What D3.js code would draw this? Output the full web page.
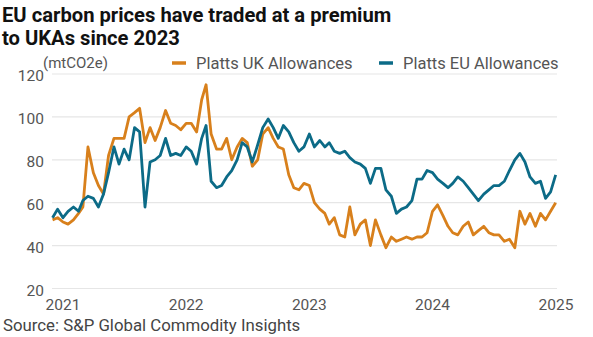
<!DOCTYPE html>
<html>
<head>
<meta charset="utf-8">
<script src="https://cdn.jsdelivr.net/npm/d3@7"></script>
<style>
  body { margin: 0; background: #fff; }
  svg { font-family: Roboto, "Noto Sans", sans-serif; }
</style>
</head>
<body>
<svg class="chartSVG" width="593" height="337"></svg>
<script>
const dates = [
  '2020-12-01','2020-12-16','2021-01-01','2021-01-16','2021-02-01','2021-02-16','2021-03-01','2021-03-16',
  '2021-04-01','2021-04-16','2021-05-01','2021-05-16','2021-06-01','2021-06-16','2021-07-01','2021-07-16',
  '2021-08-01','2021-08-16','2021-09-01','2021-09-16','2021-10-01','2021-10-16','2021-11-01','2021-11-16',
  '2021-12-01','2021-12-16','2022-01-01','2022-01-16','2022-02-01','2022-02-16','2022-03-01','2022-03-16',
  '2022-04-01','2022-04-16','2022-05-01','2022-05-16','2022-06-01','2022-06-16','2022-07-01','2022-07-16',
  '2022-08-01','2022-08-16','2022-09-01','2022-09-16','2022-10-01','2022-10-16','2022-11-01','2022-11-16',
  '2022-12-01','2022-12-16','2023-01-01','2023-01-16','2023-02-01','2023-02-16','2023-03-01','2023-03-16',
  '2023-04-01','2023-04-16','2023-05-01','2023-05-16','2023-06-01','2023-06-16','2023-07-01','2023-07-16',
  '2023-08-01','2023-08-16','2023-09-01','2023-09-16','2023-10-01','2023-10-16','2023-11-01','2023-11-16',
  '2023-12-01','2023-12-16','2024-01-01','2024-01-16','2024-02-01','2024-02-16','2024-03-01','2024-03-16',
  '2024-04-01','2024-04-16','2024-05-01','2024-05-16','2024-06-01','2024-06-16','2024-07-01','2024-07-16',
  '2024-08-01','2024-08-16','2024-09-01','2024-09-16','2024-10-01','2024-10-16','2024-11-01','2024-11-16',
  '2024-12-01','2024-12-16','2024-12-31'
];

// Platts UK Allowances
const ukValues = [
  52, 53, 51, 50, 52, 55, 58, 86, 74, 68, 64, 82, 90, 90, 90, 100,
  102, 104, 88, 95, 89, 95, 103, 97, 96, 94, 97, 97, 93, 108, 115, 92,
  85, 85, 90, 80, 86, 90, 88, 77, 80, 92, 95, 90, 86, 85, 73, 67,
  66, 69, 68, 60, 57, 55, 50, 53, 45, 44, 58, 45, 50, 52, 40, 52,
  45, 39, 44, 42, 43, 44, 43, 44, 44, 46, 56, 59, 54, 49, 46, 45,
  49, 51, 45, 47, 49, 46, 45, 45, 42, 43, 39, 56, 50, 55, 49, 55,
  52, 56, 60
];

// Platts EU Allowances
const euValues = [
  53, 57, 53, 56, 58, 56, 61, 63, 62, 58, 64, 74, 86, 78, 85, 80,
  95, 93, 58, 79, 80, 82, 90, 82, 83, 82, 86, 84, 78, 90, 96, 70,
  67, 68, 72, 75, 80, 88, 86, 79, 87, 95, 99, 95, 90, 96, 93, 88,
  84, 86, 92, 86, 89, 86, 88, 84, 83, 84, 81, 79, 78, 76, 69, 76,
  76, 66, 63, 55, 57, 58, 61, 71, 71, 75, 74, 71, 69, 67, 69, 72,
  70, 67, 64, 61, 64, 66, 68, 68, 70, 75, 80, 83, 79, 72, 69, 70,
  62, 65, 73
];

const yTicks = [20, 40, 60, 80, 100, 120];
const xTickYears = ['2021', '2022', '2023', '2024', '2025'];

const seriesNames = ['Platts UK Allowances', 'Platts EU Allowances'];
const seriesCols = ['#d8801c', '#0c6b87'];

const svg = d3.select('svg.chartSVG');
const parse = d3.timeParse('%Y-%m-%d');

const x = d3.scaleTime()
  .domain([parse('2021-01-01'), parse('2025-01-01')])
  .range([63, 556]);

const y = d3.scaleLinear()
  .domain([20, 120])
  .range([288.5, 74]);

// gridlines
svg.append('g')
  .attr('class', 'grid')
  .selectAll('line')
  .data(yTicks)
  .enter()
  .append('line')
  .attr('x1', 52)
  .attr('x2', 557)
  .attr('y1', d => y(d))
  .attr('y2', d => y(d))
  .style('stroke', '#e6e6e6')
  .style('stroke-width', 1.2);

// y labels
svg.append('g')
  .attr('class', 'yLabels')
  .selectAll('text')
  .data(yTicks)
  .enter()
  .append('text')
  .attr('x', 44)
  .attr('y', d => y(d) + 7)
  .text(d => d)
  .style('text-anchor', 'end')
  .style('font-size', '15.5px')
  .style('fill', '#555');

// x labels
svg.append('g')
  .attr('class', 'xLabels')
  .selectAll('text')
  .data(xTickYears)
  .enter()
  .append('text')
  .attr('x', d => x(parse(d + '-01-01')))
  .attr('y', 310)
  .text(d => d)
  .style('text-anchor', 'middle')
  .style('font-size', '15.5px')
  .style('fill', '#555');

const line = d3.line()
  .x(d => x(d.date))
  .y(d => y(d.value));

const series = [ukValues, euValues].map((vals, i) => ({
  name: seriesNames[i],
  col: seriesCols[i],
  values: vals.map((v, j) => ({date: parse(dates[j]), value: v}))
}));

svg.append('g')
  .attr('class', 'lines')
  .selectAll('path')
  .data(series)
  .enter()
  .append('path')
  .attr('d', d => line(d.values))
  .style('fill', 'none')
  .style('stroke', d => d.col)
  .style('stroke-width', 2.8)
  .style('stroke-linejoin', 'round');

// titles
const titleGrp = svg.append('g').attr('class', 'titles');
titleGrp.append('text')
  .attr('x', 2).attr('y', 22)
  .text('EU carbon prices have traded at a premium')
  .style('font-size', '20.2px').style('font-weight', 700).style('fill', '#111');
titleGrp.append('text')
  .attr('x', 2).attr('y', 45)
  .text('to UKAs since 2023')
  .style('font-size', '20.2px').style('font-weight', 700).style('fill', '#111');

titleGrp.append('text')
  .attr('x', 43).attr('y', 68)
  .text('(mtCO2e)')
  .style('font-size', '15px').style('fill', '#555');

// legend
const legX = [172, 379];
const leg = svg.append('g')
  .attr('class', 'legend')
  .selectAll('g')
  .data(series)
  .enter()
  .append('g')
  .attr('transform', (d, i) => `translate(${legX[i]},63)`);

leg.append('line')
  .attr('x1', 0).attr('x2', 14)
  .style('stroke', d => d.col)
  .style('stroke-width', 3.5);

leg.append('text')
  .attr('x', 24).attr('y', 5.5)
  .text(d => d.name)
  .style('font-size', '16.5px')
  .style('fill', '#555');

svg.append('text')
  .attr('x', 3).attr('y', 331)
  .text('Source: S&P Global Commodity Insights')
  .style('font-size', '16.8px')
  .style('fill', '#444');
</script>
</body>
</html>
